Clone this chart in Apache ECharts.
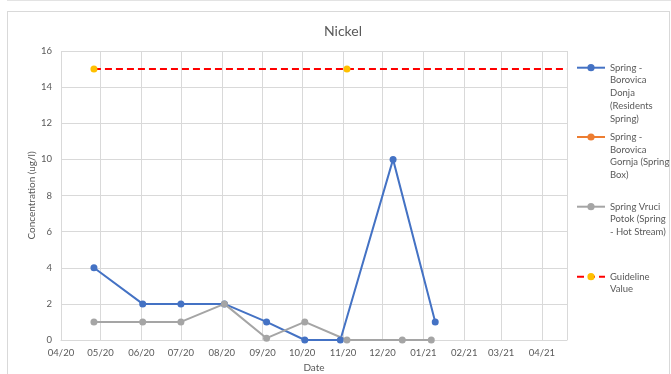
<!DOCTYPE html>
<html>
<head>
<meta charset="utf-8">
<script src="https://cdn.jsdelivr.net/npm/echarts@6/dist/echarts.min.js"></script>
<style>
  html, body { margin: 0; padding: 0; background: #fff; }
  #strip { position: absolute; left: 7px; right: 0; top: 0; height: 1px; background: #e3e3e3; }
  #frame { position: absolute; left: 7px; top: 11px; width: 661px; height: 400px; border: 1px solid #d9d9d9; }
  #chart { position: absolute; left: 0; top: 0; width: 671px; height: 374px; }
</style>
</head>
<body>
<div id="strip"></div>
<div id="frame"></div>
<div id="chart"></div>
<script>
// series names (legend order)
const seriesNames = [
  'Spring - Borovica Donja (Residents Spring)',
  'Spring - Borovica Gornja (Spring Box)',
  'Spring Vruci Potok (Spring - Hot Stream)',
  'Guideline Value'
];
// wrapped legend text, as in the reference
const legendLines = [
  ['Spring -', 'Borovica', 'Donja', '(Residents', 'Spring)'],
  ['Spring -', 'Borovica', 'Gornja (Spring', 'Box)'],
  ['Spring Vruci', 'Potok (Spring', '- Hot Stream)'],
  ['Guideline', 'Value']
];

// sample dates + values
const donjaDates  = ['2020-04-26', '2020-06-02', '2020-07-01', '2020-08-03', '2020-09-04', '2020-10-03', '2020-10-30', '2020-12-09', '2021-01-10'];
const donjaValues = [4, 2, 2, 2, 1, 0, 0, 10, 1];

const gornjaDates  = [];
const gornjaValues = [];

const vruciDates  = ['2020-04-26', '2020-06-02', '2020-07-01', '2020-08-03', '2020-09-04', '2020-10-03', '2020-11-04', '2020-12-16', '2021-01-07'];
const vruciValues = [1, 1, 1, 2, 0.1, 1, 0, 0, 0];

const guideDates  = ['2020-04-26', '2020-11-04', '2021-04-20'];
const guideValues = [15, 15, 15];

// axis range
const xMin = '2020-04-01';
const xMax = '2021-04-20';
const yMin = 0, yMax = 16, yStep = 2;

const colors = ['#4472c4', '#ed7d31', '#a5a5a5', '#ffc000'];
const font = 'Lato, "Open Sans", sans-serif';
const textColor = '#595959';
const LH = 12.7;

const toDay = s => {
  const p = s.split('-').map(Number);
  return new Date(p[0], p[1] - 1, p[2]).getTime();
};
const pairs = (ds, vs) => ds.map((d, i) => [toDay(d), vs[i]]);
const pad = n => (n < 10 ? '0' : '') + n;

const chart = echarts.init(document.getElementById('chart'));

// one legend per entry so the icon sits on the first text line
const legendCenters = [67.7, 137, 206.7, 276.7];
const legends = seriesNames.map((name, i) => {
  const n = legendLines[i].length;
  return {
    data: [name],
    orient: 'vertical',
    left: 576,
    top: legendCenters[i] - (2 * n - 1) * LH / 2,
    padding: 0,
    itemWidth: 28,
    itemHeight: 9,
    selectedMode: false,
    formatter: () => '\n'.repeat(n - 1) + legendLines[i].join('\n'),
    textStyle: { fontFamily: font, fontSize: 9.5, lineHeight: LH, color: textColor }
  };
});

const guideData = pairs(guideDates, guideValues).map((p, i) =>
  i === guideDates.length - 1 ? { value: p, symbol: 'none' } : p
);

chart.setOption({
  animation: false,
  color: colors,
  title: {
    text: 'Nickel',
    left: 338,
    top: 19,
    textAlign: 'center',
    textStyle: { fontFamily: font, fontSize: 14, fontWeight: 'normal', color: textColor }
  },
  legend: legends,
  grid: { left: 61, right: 104, top: 51, bottom: 34, outerBoundsMode: 'none' },
  xAxis: {
    type: 'time',
    min: toDay(xMin),
    max: toDay(xMax),
    splitNumber: 13,
    minInterval: 28 * 864e5,
    maxInterval: 31 * 864e5,
    name: 'Date',
    nameLocation: 'middle',
    nameGap: 21,
    nameTextStyle: { fontFamily: font, fontSize: 10, color: textColor },
    axisLine: { lineStyle: { color: '#d9d9d9', width: 1 } },
    axisTick: { show: false },
    axisLabel: {
      fontFamily: font, fontSize: 9.5, color: textColor, margin: 8,
      formatter: v => {
        const d = new Date(v);
        return pad(d.getMonth() + 1) + '/' + String(d.getFullYear()).slice(2);
      }
    },
    splitLine: { show: true, lineStyle: { color: '#d9d9d9', width: 1 } }
  },
  yAxis: {
    type: 'value',
    min: yMin,
    max: yMax,
    interval: yStep,
    name: 'Concentration (ug/l)',
    nameLocation: 'middle',
    nameGap: 24,
    nameMoveOverlap: false,
    nameTextStyle: { fontFamily: font, fontSize: 10, color: textColor },
    axisLine: { show: false },
    axisTick: { show: false },
    axisLabel: { fontFamily: font, fontSize: 9.5, color: textColor, margin: 9 },
    splitLine: { lineStyle: { color: '#d9d9d9', width: 1 } }
  },
  series: [
    {
      name: seriesNames[0], type: 'line', data: pairs(donjaDates, donjaValues),
      symbol: 'circle', symbolSize: 7, showAllSymbol: true,
      lineStyle: { color: colors[0], width: 2 }, itemStyle: { color: colors[0] }
    },
    {
      name: seriesNames[1], type: 'line', data: pairs(gornjaDates, gornjaValues),
      symbol: 'circle', symbolSize: 7,
      lineStyle: { color: colors[1], width: 2 }, itemStyle: { color: colors[1] }
    },
    {
      name: seriesNames[2], type: 'line', data: pairs(vruciDates, vruciValues),
      symbol: 'circle', symbolSize: 7, showAllSymbol: true,
      lineStyle: { color: colors[2], width: 2 }, itemStyle: { color: colors[2] }
    },
    {
      name: seriesNames[3], type: 'line', data: guideData,
      symbol: 'circle', symbolSize: 7, showAllSymbol: true,
      lineStyle: { color: '#ff0000', width: 2, type: [7, 4] }, itemStyle: { color: colors[3] }
    }
  ]
});
</script>
</body>
</html>
